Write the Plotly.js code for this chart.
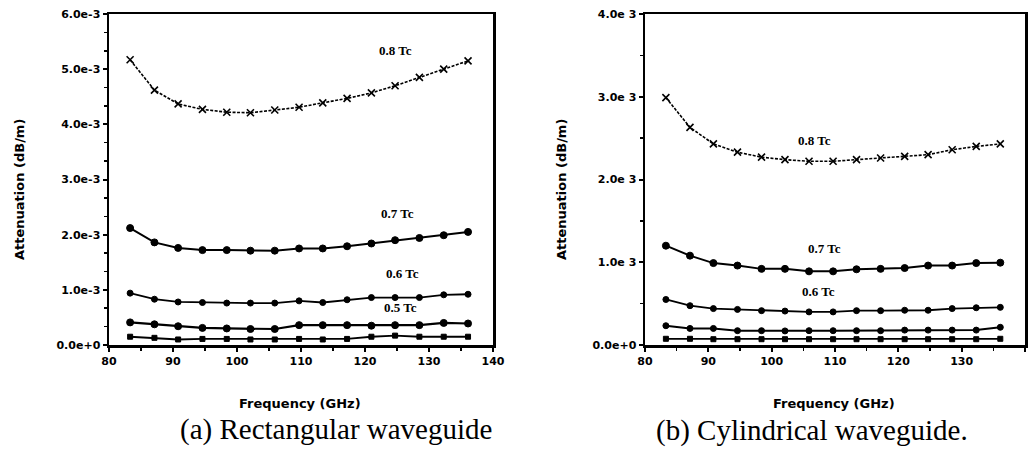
<!DOCTYPE html>
<html>
<head>
<meta charset="utf-8">
<script src="https://cdn.plot.ly/plotly-3.0.1.min.js"></script>
<style>html,body{margin:0;padding:0;background:#fff}#chart{width:1035px;height:450px}</style>
</head>
<body>
<div id="chart"></div>
<script>
// Frequency (GHz)
var freq = [83.3, 87.1, 90.8, 94.6, 98.4, 102.1, 105.9, 109.7, 113.4, 117.2, 121.0, 124.7, 128.5, 132.3, 136.1];

// (a) Rectangular waveguide, attenuation (dB/m)
var rect08 = [5.17e-3, 4.62e-3, 4.37e-3, 4.27e-3, 4.22e-3, 4.21e-3, 4.26e-3, 4.31e-3, 4.39e-3, 4.47e-3, 4.57e-3, 4.70e-3, 4.85e-3, 5.00e-3, 5.15e-3];
var rect07 = [2.12e-3, 1.86e-3, 1.76e-3, 1.72e-3, 1.72e-3, 1.71e-3, 1.71e-3, 1.75e-3, 1.75e-3, 1.79e-3, 1.84e-3, 1.90e-3, 1.94e-3, 1.99e-3, 2.05e-3];
var rect06 = [0.94e-3, 0.83e-3, 0.78e-3, 0.77e-3, 0.76e-3, 0.76e-3, 0.76e-3, 0.80e-3, 0.77e-3, 0.82e-3, 0.86e-3, 0.86e-3, 0.86e-3, 0.91e-3, 0.92e-3];
var rect05 = [0.41e-3, 0.375e-3, 0.34e-3, 0.31e-3, 0.30e-3, 0.29e-3, 0.29e-3, 0.36e-3, 0.36e-3, 0.36e-3, 0.35e-3, 0.36e-3, 0.36e-3, 0.40e-3, 0.39e-3];
var rect04 = [0.15e-3, 0.13e-3, 0.10e-3, 0.11e-3, 0.11e-3, 0.10e-3, 0.10e-3, 0.11e-3, 0.10e-3, 0.11e-3, 0.15e-3, 0.17e-3, 0.15e-3, 0.15e-3, 0.15e-3];

// (b) Cylindrical waveguide, attenuation (dB/m)
var cyl08 = [2.99e-3, 2.63e-3, 2.43e-3, 2.33e-3, 2.27e-3, 2.24e-3, 2.22e-3, 2.22e-3, 2.24e-3, 2.26e-3, 2.28e-3, 2.30e-3, 2.36e-3, 2.40e-3, 2.43e-3];
var cyl07 = [1.20e-3, 1.08e-3, 0.99e-3, 0.96e-3, 0.92e-3, 0.92e-3, 0.89e-3, 0.89e-3, 0.915e-3, 0.92e-3, 0.93e-3, 0.96e-3, 0.96e-3, 0.99e-3, 0.995e-3];
var cyl06 = [0.55e-3, 0.475e-3, 0.44e-3, 0.43e-3, 0.415e-3, 0.41e-3, 0.40e-3, 0.40e-3, 0.415e-3, 0.415e-3, 0.42e-3, 0.42e-3, 0.44e-3, 0.45e-3, 0.455e-3];
var cyl05 = [0.233e-3, 0.20e-3, 0.20e-3, 0.173e-3, 0.173e-3, 0.17e-3, 0.173e-3, 0.173e-3, 0.173e-3, 0.173e-3, 0.18e-3, 0.18e-3, 0.18e-3, 0.18e-3, 0.214e-3];
var cyl04 = [0.075e-3, 0.075e-3, 0.07e-3, 0.07e-3, 0.07e-3, 0.07e-3, 0.07e-3, 0.07e-3, 0.07e-3, 0.07e-3, 0.07e-3, 0.07e-3, 0.07e-3, 0.07e-3, 0.075e-3];

// Tick labels
var xTickVals = [80, 90, 100, 110, 120, 130, 140];
var xTickText = ['80', '90', '100', '110', '120', '130', '140'];
var rectTickVals = [0, 1e-3, 2e-3, 3e-3, 4e-3, 5e-3, 6e-3];
var rectTickText = ['0.0e+0', '1.0e-3', '2.0e-3', '3.0e-3', '4.0e-3', '5.0e-3', '6.0e-3'];
var cylTickVals = [0, 1e-3, 2e-3, 3e-3, 4e-3];
var cylTickText = ['0.0e+0', '1.0e 3', '2.0e 3', '3.0e 3', '4.0e 3'];

// Curve labels
var rectLabels = ['0.8 Tc', '0.7 Tc', '0.6 Tc', '0.5 Tc'];
var cylLabels = ['0.8 Tc', '0.7 Tc', '0.6 Tc'];
var xTitle = 'Frequency (GHz)';
var yTitle = 'Attenuation (dB/m)';
var captions = ['(a) Rectangular waveguide', '(b) Cylindrical waveguide.'];

function tr(x, y, xa, ya, sym, size, lw, dash, mw) {
  return {
    x: x, y: y, xaxis: xa, yaxis: ya, type: 'scatter', mode: 'lines+markers',
    line: {color: '#000', width: lw, dash: dash || 'solid'},
    marker: {symbol: sym, size: size, color: '#000', line: {color: '#000', width: mw || 1}},
    showlegend: false, hoverinfo: 'skip'
  };
}

var data = [
  tr(freq, rect08, 'x', 'y', 'x-thin-open', 7, 1.6, '3px,1.5px', 1.6),
  tr(freq, rect07, 'x', 'y', 'circle', 7, 2),
  tr(freq, rect06, 'x', 'y', 'circle', 6, 1.8),
  tr(freq, rect05, 'x', 'y', 'circle', 7, 2.2),
  tr(freq, rect04, 'x', 'y', 'square', 5, 1.8),
  tr(freq, cyl08, 'x2', 'y2', 'x-thin-open', 7, 1.6, '3px,1.5px', 1.6),
  tr(freq, cyl07, 'x2', 'y2', 'circle', 7, 2),
  tr(freq, cyl06, 'x2', 'y2', 'circle', 6, 1.8),
  tr(freq, cyl05, 'x2', 'y2', 'circle', 6, 2),
  tr(freq, cyl04, 'x2', 'y2', 'square', 5, 1.8)
];

var tickFont = {family: 'DejaVu Sans', size: 11, color: '#000', weight: 'bold'};
function xAxis(dom, anchor) {
  return {domain: dom, anchor: anchor, range: [80, 140], tickmode: 'array', tickvals: xTickVals, ticktext: xTickText,
    showline: true, linewidth: 2.5, linecolor: '#000', mirror: true, ticks: 'outside', ticklen: 4, tickwidth: 2,
    tickcolor: '#000', showgrid: false, zeroline: false, tickfont: tickFont,
    minor: {ticks: 'outside', ticklen: 3, tickwidth: 1.5, tickcolor: '#000', dtick: 5, showgrid: false}};
}
function yAxis(dom, anchor, rng, tv, tt, mdt) {
  return {domain: dom, anchor: anchor, range: rng, tickmode: 'array', tickvals: tv, ticktext: tt,
    showline: true, linewidth: 2.5, linecolor: '#000', mirror: true, ticks: 'outside', ticklen: 4, tickwidth: 2,
    tickcolor: '#000', showgrid: false, zeroline: false, tickfont: tickFont,
    minor: {ticks: 'outside', ticklen: 3, tickwidth: 1.5, tickcolor: '#000', tick0: 0, dtick: mdt, showgrid: false}};
}

var W = 1035, H = 450;
function px(v) { return v / W; }
function py(v) { return (H - v) / H; }
var yDom = [py(345), py(14)];

var labFont = {family: 'Liberation Serif', size: 13, color: '#000', weight: 'bold'};
var titFont = {family: 'DejaVu Sans', size: 13, color: '#000', weight: 'bold'};
var capFont = {family: 'Liberation Serif', size: 29, color: '#000'};
function ann(text, x, y, font, extra) {
  var a = {text: text, xref: 'paper', yref: 'paper', x: px(x), y: py(y), xanchor: 'center', yanchor: 'middle',
    showarrow: false, font: font};
  if (extra) for (var k in extra) a[k] = extra[k];
  return a;
}

var annotations = [
  ann(rectLabels[0], 395, 50, labFont),
  ann(rectLabels[1], 397, 214, labFont),
  ann(rectLabels[2], 402, 273, labFont),
  ann(rectLabels[3], 400, 307, labFont),
  ann(cylLabels[0], 814, 140, labFont),
  ann(cylLabels[1], 824, 248, labFont),
  ann(cylLabels[2], 818, 291, labFont),
  ann(xTitle, 300, 403, titFont),
  ann(xTitle, 834, 403, titFont),
  ann(yTitle, 19, 190, titFont, {textangle: -90}),
  ann(yTitle, 561, 190, titFont, {textangle: -90}),
  ann(captions[0], 336, 429, capFont),
  ann(captions[1], 812, 430, capFont)
];

var layout = {
  width: W, height: H,
  margin: {l: 0, r: 0, t: 0, b: 0, pad: 0},
  paper_bgcolor: '#fff', plot_bgcolor: '#fff',
  xaxis: xAxis([px(109), px(493)], 'y'),
  yaxis: yAxis(yDom, 'x', [0, 6e-3], rectTickVals, rectTickText, 1e-3 / 3),
  xaxis2: xAxis([px(645), px(1025)], 'y2'),
  yaxis2: yAxis(yDom, 'x2', [0, 4e-3], cylTickVals, cylTickText, 0.5e-3),
  annotations: annotations,
  showlegend: false
};

Plotly.newPlot('chart', data, layout, {staticPlot: true, displayModeBar: false});
</script>
</body>
</html>
